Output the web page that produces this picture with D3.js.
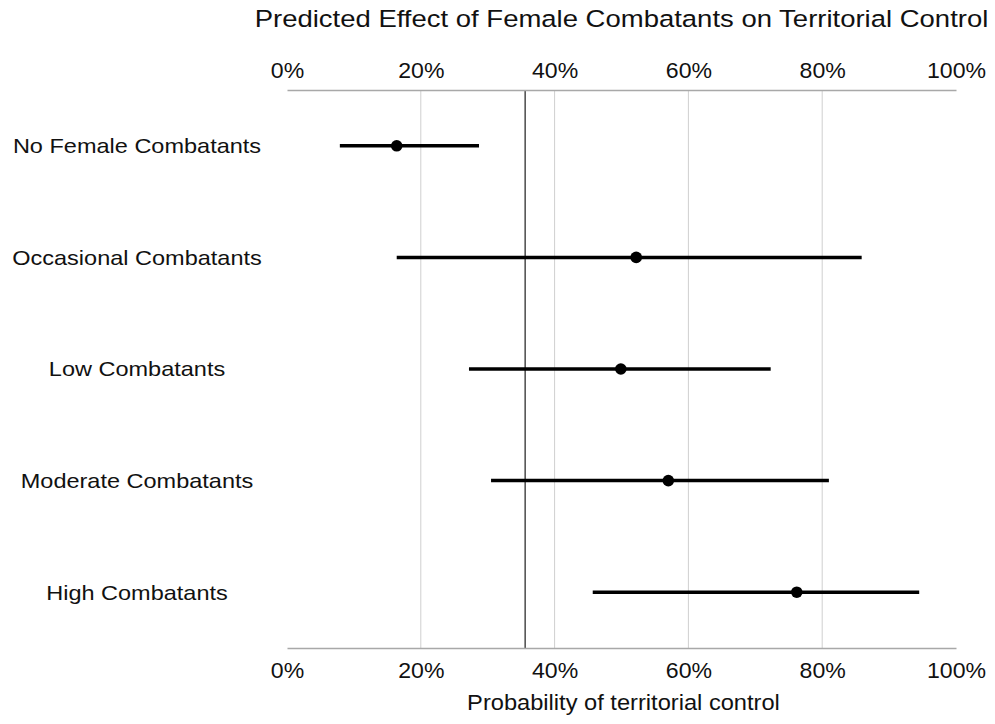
<!DOCTYPE html>
<html>
<head>
<meta charset="utf-8">
<script src="https://cdn.jsdelivr.net/npm/d3@7"></script>
<style>
  body { margin: 0; background: #fff; }
  text { font-family: "Liberation Sans", Arial, sans-serif; fill: #111; }
</style>
</head>
<body>
<div id="chart"></div>
<script>
const categories = [
  "No Female Combatants",
  "Occasional Combatants",
  "Low Combatants",
  "Moderate Combatants",
  "High Combatants",
];
const estimate = [0.164, 0.522, 0.499, 0.570, 0.762];
const lower = [0.079, 0.164, 0.272, 0.305, 0.457];
const upper = [0.287, 0.859, 0.723, 0.810, 0.945];
const tickValues = [0, 0.2, 0.4, 0.6, 0.8, 1];
const refValue = 0.356;

const W = 995, H = 724;
const margin = { top: 90, right: 39, bottom: 76, left: 287 };
const width = W - margin.left - margin.right;
const height = H - margin.top - margin.bottom;

const svg = d3.select("#chart")
  .append("svg")
  .attr("width", W)
  .attr("height", H);

const g = svg.append("g")
  .attr("transform", `translate(${margin.left},${margin.top})`);

const x = d3.scaleLinear().domain([0, 1]).range([0, width]);
const y = d3.scalePoint().domain(categories).range([0, height]).padding(0.5);

// gridlines
g.selectAll(".grid")
  .data(tickValues.filter((d) => d > 0 && d < 1))
  .enter()
  .append("line")
  .attr("class", "grid")
  .attr("x1", (d) => x(d))
  .attr("x2", (d) => x(d))
  .attr("y1", 0)
  .attr("y2", height)
  .attr("stroke", "#cfcfcf")
  .attr("stroke-width", 1);

// reference line
g.append("line")
  .attr("x1", x(refValue))
  .attr("x2", x(refValue))
  .attr("y1", 0)
  .attr("y2", height)
  .attr("stroke", "#4a4a4a")
  .attr("stroke-width", 1.5);

const fmt = d3.format(".0%");

const topAxis = g.append("g")
  .call(d3.axisTop(x).tickValues(tickValues).tickFormat(fmt).tickSize(0).tickPadding(12));
const bottomAxis = g.append("g")
  .attr("transform", `translate(0,${height})`)
  .call(d3.axisBottom(x).tickValues(tickValues).tickFormat(fmt).tickSize(0).tickPadding(14));

[topAxis, bottomAxis].forEach((ax) => {
  ax.select(".domain").attr("stroke", "#a8a8a8").attr("stroke-width", 1.5);
  ax.selectAll("text")
    .style("font-size", "22px")
    .style("font-family", "'Liberation Sans', Arial, sans-serif")
    .attr("fill", "#111")
    .attr("transform", "scale(1.05,1)");
});

// category labels
svg.selectAll(".cat")
  .data(categories)
  .enter()
  .append("text")
  .attr("class", "cat")
  .attr("text-anchor", "middle")
  .attr("transform", (d) => `translate(137,${margin.top + y(d) + 7.4}) scale(1.12,1)`)
  .style("font-size", "21px")
  .text((d) => d);

// intervals
const rows = categories.map((c, i) => ({ c, est: estimate[i], lo: lower[i], hi: upper[i] }));

g.selectAll(".ci")
  .data(rows)
  .enter()
  .append("line")
  .attr("class", "ci")
  .attr("x1", (d) => x(d.lo))
  .attr("x2", (d) => x(d.hi))
  .attr("y1", (d) => y(d.c))
  .attr("y2", (d) => y(d.c))
  .attr("stroke", "#000")
  .attr("stroke-width", 3.5);

g.selectAll(".pt")
  .data(rows)
  .enter()
  .append("circle")
  .attr("class", "pt")
  .attr("cx", (d) => x(d.est))
  .attr("cy", (d) => y(d.c))
  .attr("r", 5.8)
  .attr("fill", "#000");

// title
svg.append("text")
  .attr("text-anchor", "middle")
  .attr("transform", `translate(${margin.left + width / 2},27) scale(1.17,1)`)
  .style("font-size", "23.5px")
  .text("Predicted Effect of Female Combatants on Territorial Control");

// x axis title
svg.append("text")
  .attr("text-anchor", "middle")
  .attr("transform", `translate(${margin.left + width / 2 + 2},710) scale(1.1,1)`)
  .style("font-size", "21.5px")
  .text("Probability of territorial control");
</script>
</body>
</html>
